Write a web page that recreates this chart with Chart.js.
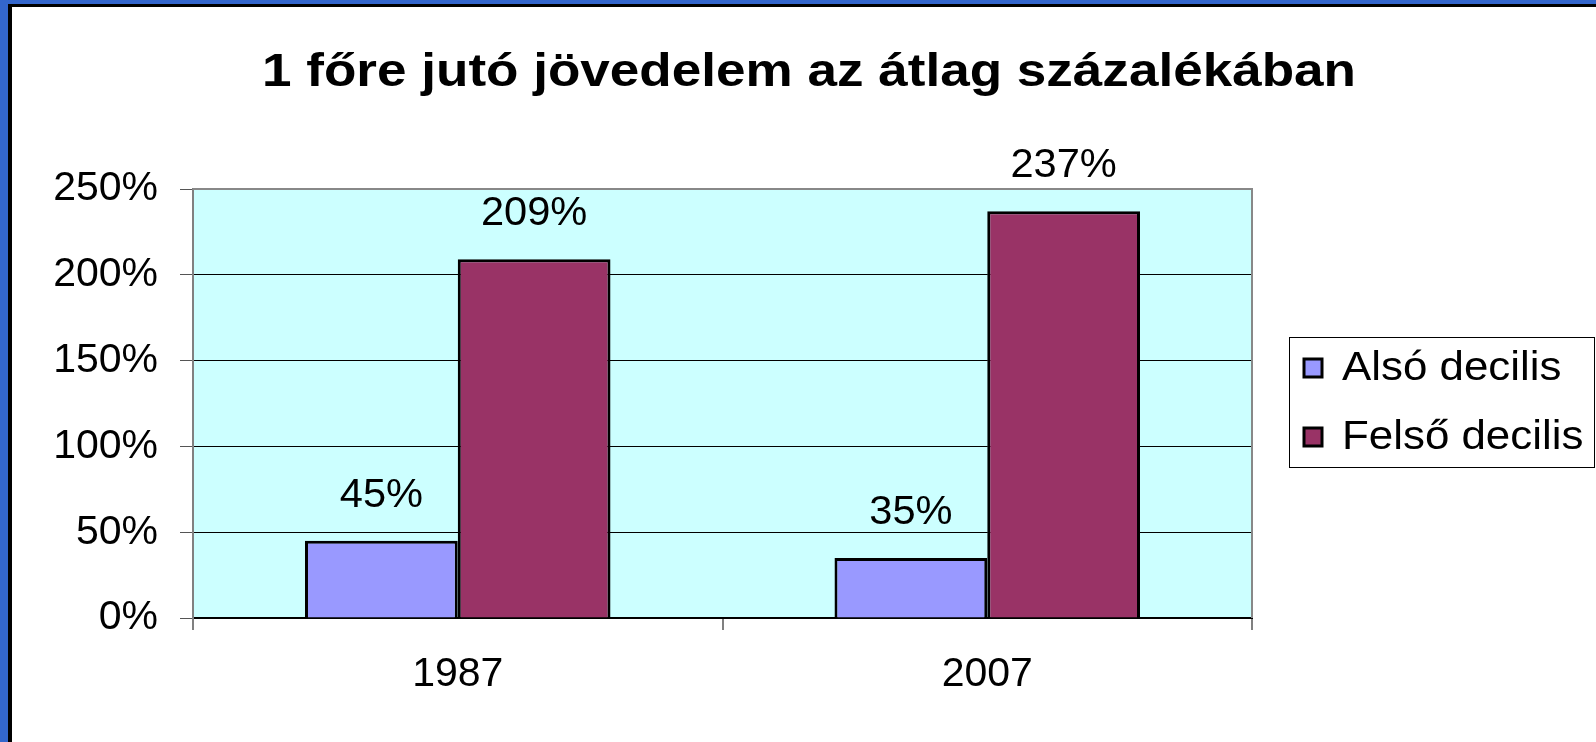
<!DOCTYPE html>
<html>
<head>
<meta charset="utf-8">
<script src="https://cdn.jsdelivr.net/npm/chart.js@4/dist/chart.umd.min.js"></script>
<style>
  html, body { margin: 0; padding: 0; background: #3366cc; overflow: hidden; }
  .frame {
    position: absolute;
    left: 8px; top: 4px;
    width: 1584px; height: 738px;
    border-left: 4px solid #000;
    border-top: 3px solid #000;
    background: #fff;
  }
  #chart { display: block; }
</style>
</head>
<body>
<div class="frame">
  <canvas id="chart" width="1584" height="735"></canvas>
</div>
<script>
const years = ["1987", "2007"];
const lowerDecile = [45, 35];
const upperDecile = [209, 237];
const yTickLabels = ["0%", "50%", "100%", "150%", "200%", "250%"];
const seriesNames = ["Alsó decilis", "Felső decilis"];
const chartTitle = "1 főre jutó jövedelem az átlag százalékában";

const FONT = "'Liberation Sans', Arial, sans-serif";

// the original text is a little wider than Arial, so stretch it sideways
function fillStretched(ctx, text, x, y, sx, align) {
  const w = ctx.measureText(text).width * sx;
  let left = x;
  if (align === "center") left = x - w / 2;
  ctx.save();
  ctx.textAlign = "left";
  ctx.translate(left, y);
  ctx.scale(sx, 1);
  ctx.fillText(text, 0, 0);
  ctx.restore();
}

// cyan plot background and grey frame round the plot area
const plotArea = {
  id: "plotArea",
  beforeDraw(chart) {
    const { ctx, chartArea: a } = chart;
    ctx.save();
    ctx.fillStyle = "#ccffff";
    ctx.fillRect(a.left, a.top, a.right - a.left, a.bottom - a.top);
    ctx.restore();
  },
  beforeDatasetsDraw(chart) {
    const { ctx, chartArea: a } = chart;
    ctx.save();
    ctx.strokeStyle = "#888888";
    ctx.lineWidth = 2;
    ctx.beginPath();
    ctx.moveTo(a.left, a.top);
    ctx.lineTo(a.right, a.top);
    ctx.lineTo(a.right, a.bottom);
    ctx.stroke();
    ctx.restore();
  }
};

const titleText = {
  id: "titleText",
  afterDraw(chart) {
    const { ctx } = chart;
    ctx.save();
    ctx.font = `bold 47px ${FONT}`;
    ctx.fillStyle = "#000";
    ctx.textBaseline = "middle";
    const sx = 1094 / ctx.measureText(chartTitle).width;
    fillStretched(ctx, chartTitle, 797, 66, sx, "center");
    ctx.restore();
  }
};

const valueLabels = {
  id: "valueLabels",
  afterDatasetsDraw(chart) {
    const { ctx } = chart;
    ctx.save();
    ctx.font = `40px ${FONT}`;
    ctx.fillStyle = "#000";
    ctx.textBaseline = "middle";
    chart.data.datasets.forEach((ds, i) => {
      chart.getDatasetMeta(i).data.forEach((bar, j) => {
        fillStretched(ctx, `${ds.data[j]}%`, bar.x, bar.y - 45, 1.04, "center");
      });
    });
    ctx.restore();
  }
};

// legend with a box, to the right of the plot
const boxLegend = {
  id: "boxLegend",
  afterDraw(chart) {
    const { ctx } = chart;
    const box = { x: 1277, y: 330, w: 305, h: 130 };
    ctx.save();
    ctx.strokeStyle = "#000";
    ctx.lineWidth = 1;
    ctx.strokeRect(box.x + 0.5, box.y + 0.5, box.w, box.h);
    ctx.font = `41px ${FONT}`;
    ctx.textBaseline = "middle";
    chart.data.datasets.forEach((ds, i) => {
      const cy = 361 + i * 69;
      ctx.fillStyle = ds.backgroundColor;
      ctx.fillRect(1292, cy - 9, 18, 18);
      ctx.strokeStyle = "#000";
      ctx.lineWidth = 3;
      ctx.strokeRect(1292, cy - 9, 18, 18);
      ctx.fillStyle = "#000";
      fillStretched(ctx, ds.label, 1330, cy + 1, 1.07, "left");
    });
    ctx.restore();
  }
};

new Chart(document.getElementById("chart"), {
  type: "bar",
  data: {
    labels: years,
    datasets: [
      {
        label: seriesNames[0],
        data: lowerDecile,
        backgroundColor: "#9999ff",
        borderColor: "#000",
        borderWidth: 3,
        borderSkipped: "bottom"
      },
      {
        label: seriesNames[1],
        data: upperDecile,
        backgroundColor: "#993366",
        borderColor: "#000",
        borderWidth: 3,
        borderSkipped: "bottom"
      }
    ]
  },
  options: {
    responsive: false,
    animation: false,
    events: [],
    layout: { padding: { left: 0, right: 344, top: 182, bottom: 0 } },
    datasets: {
      bar: { categoryPercentage: 0.577, barPercentage: 1.0 }
    },
    plugins: {
      legend: { display: false },
      tooltip: { enabled: false },
      title: { display: false }
    },
    scales: {
      x: {
        grid: {
          offset: true,
          drawOnChartArea: false,
          drawTicks: true,
          tickLength: 12,
          color: "#808080",
          lineWidth: 2
        },
        border: { display: true, color: "#000", width: 2 },
        ticks: {
          color: "#000",
          padding: 20,
          font: { family: FONT, size: 41 }
        },
        afterFit(scale) { scale.height = 124; }
      },
      y: {
        min: 0,
        max: 250,
        grid: {
          color: "#000",
          lineWidth: 1,
          tickLength: 13,
          tickColor: "#555"
        },
        border: { display: true, color: "#808080", width: 2 },
        ticks: {
          stepSize: 50,
          color: "#000",
          padding: 22,
          font: { family: FONT, size: 41 },
          callback(value, index) { return yTickLabels[index]; }
        },
        afterFit(scale) { scale.width = 181; }
      }
    }
  },
  plugins: [plotArea, titleText, valueLabels, boxLegend]
});
</script>
</body>
</html>
